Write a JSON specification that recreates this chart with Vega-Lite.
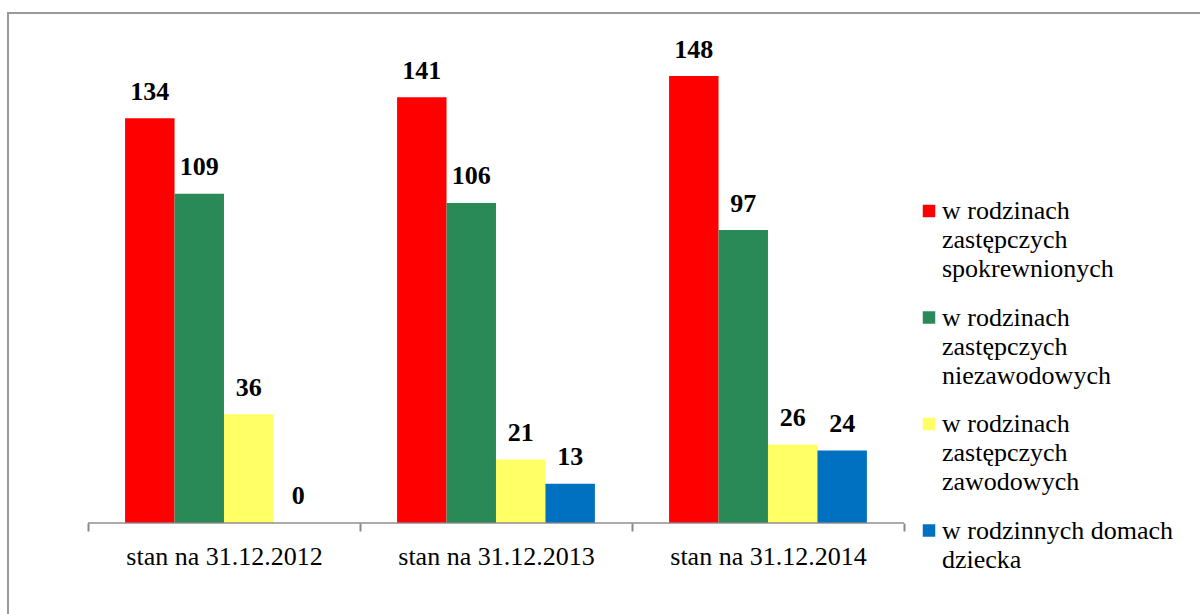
{
  "$schema": "https://vega.github.io/schema/vega-lite/v6.json",
  "width": 1200,
  "height": 612,
  "autosize": {"type": "none"},
  "padding": {"left": 8, "top": 13, "right": 0, "bottom": 0},
  "config": {
    "view": {"stroke": "#999999", "strokeWidth": 2},
    "font": "Liberation Serif",
    "style": {"guide-label": {"lineHeight": 29, "font": "Liberation Serif", "fontSize": 26, "fill": "#000000"}}
  },
  "data": {
    "values": [
      {"date": "stan na 31.12.2012", "series": "w rodzinach zastępczych spokrewnionych", "value": 134},
      {"date": "stan na 31.12.2012", "series": "w rodzinach zastępczych niezawodowych", "value": 109},
      {"date": "stan na 31.12.2012", "series": "w rodzinach zastępczych zawodowych", "value": 36},
      {"date": "stan na 31.12.2012", "series": "w rodzinnych domach dziecka", "value": 0},
      {"date": "stan na 31.12.2013", "series": "w rodzinach zastępczych spokrewnionych", "value": 141},
      {"date": "stan na 31.12.2013", "series": "w rodzinach zastępczych niezawodowych", "value": 106},
      {"date": "stan na 31.12.2013", "series": "w rodzinach zastępczych zawodowych", "value": 21},
      {"date": "stan na 31.12.2013", "series": "w rodzinnych domach dziecka", "value": 13},
      {"date": "stan na 31.12.2014", "series": "w rodzinach zastępczych spokrewnionych", "value": 148},
      {"date": "stan na 31.12.2014", "series": "w rodzinach zastępczych niezawodowych", "value": 97},
      {"date": "stan na 31.12.2014", "series": "w rodzinach zastępczych zawodowych", "value": 26},
      {"date": "stan na 31.12.2014", "series": "w rodzinnych domach dziecka", "value": 24}
    ]
  },
  "encoding": {
    "x": {
      "field": "date",
      "type": "nominal",
      "sort": null,
      "scale": {"paddingInner": 0, "paddingOuter": 0.7059, "align": 0.2083},
      "axis": {
        "title": null,
        "domain": false,
        "grid": false,
        "tickBand": "extent",
        "tickColor": "#888888",
        "tickWidth": 2,
        "tickSize": 8,
        "labelFontSize": 26,
        "labelFont": "Liberation Serif",
        "labelColor": "#000000",
        "labelLimit": 500,
        "labelPadding": 12,
        "labelAngle": 0,
        "offset": -102
      }
    },
    "y": {
      "field": "value",
      "type": "quantitative",
      "scale": {"domain": [-33.8, 168.9], "nice": false, "zero": false},
      "axis": null
    }
  },
  "layer": [
    {
      "mark": {"type": "bar"},
      "encoding": {
        "xOffset": {
          "field": "series",
          "sort": null,
          "scale": {"paddingOuter": 0.75, "paddingInner": 0}
        },
        "color": {
          "field": "series",
          "type": "nominal",
          "sort": null,
          "scale": {
            "domain": [
              "w rodzinach zastępczych spokrewnionych",
              "w rodzinach zastępczych niezawodowych",
              "w rodzinach zastępczych zawodowych",
              "w rodzinnych domach dziecka"
            ],
            "range": ["#FF0000", "#2A8A57", "#FFFF66", "#0070C0"]
          },
          "legend": {
            "title": null,
            "orient": "none",
            "legendX": 908,
            "legendY": 185,
            "padding": 0,
            "symbolType": "square",
            "symbolSize": 156,
            "symbolStrokeWidth": 0,
            "labelFontSize": 26,
            "labelFont": "Liberation Serif",
            "labelColor": "#000000",
            "labelOffset": 0,
            "labelLimit": 400,
            "labelBaseline": "middle",
            "rowPadding": 22.5,
            "labelExpr": "datum.label == 'w rodzinach zastępczych spokrewnionych' ? ['w rodzinach','zastępczych','spokrewnionych'] : datum.label == 'w rodzinach zastępczych niezawodowych' ? ['w rodzinach','zastępczych','niezawodowych'] : datum.label == 'w rodzinach zastępczych zawodowych' ? ['w rodzinach','zastępczych','zawodowych'] : ['w rodzinnych domach','dziecka']"
          }
        }
      }
    },
    {
      "mark": {"type": "text", "fontWeight": "bold", "fontSize": 26, "font": "Liberation Serif", "baseline": "alphabetic", "dy": -18.5, "color": "#000000"},
      "encoding": {
        "xOffset": {
          "field": "series",
          "sort": null,
          "scale": {"paddingOuter": 0.75, "paddingInner": 0}
        },
        "text": {"field": "value", "type": "quantitative"}
      }
    },
    {
      "transform": [{"filter": "datum.series == 'w rodzinach zastępczych spokrewnionych'"}],
      "mark": {"type": "tick", "size": 272, "thickness": 2, "color": "#888888"},
      "encoding": {
        "y": {"datum": 0}
      }
    }
  ]
}
